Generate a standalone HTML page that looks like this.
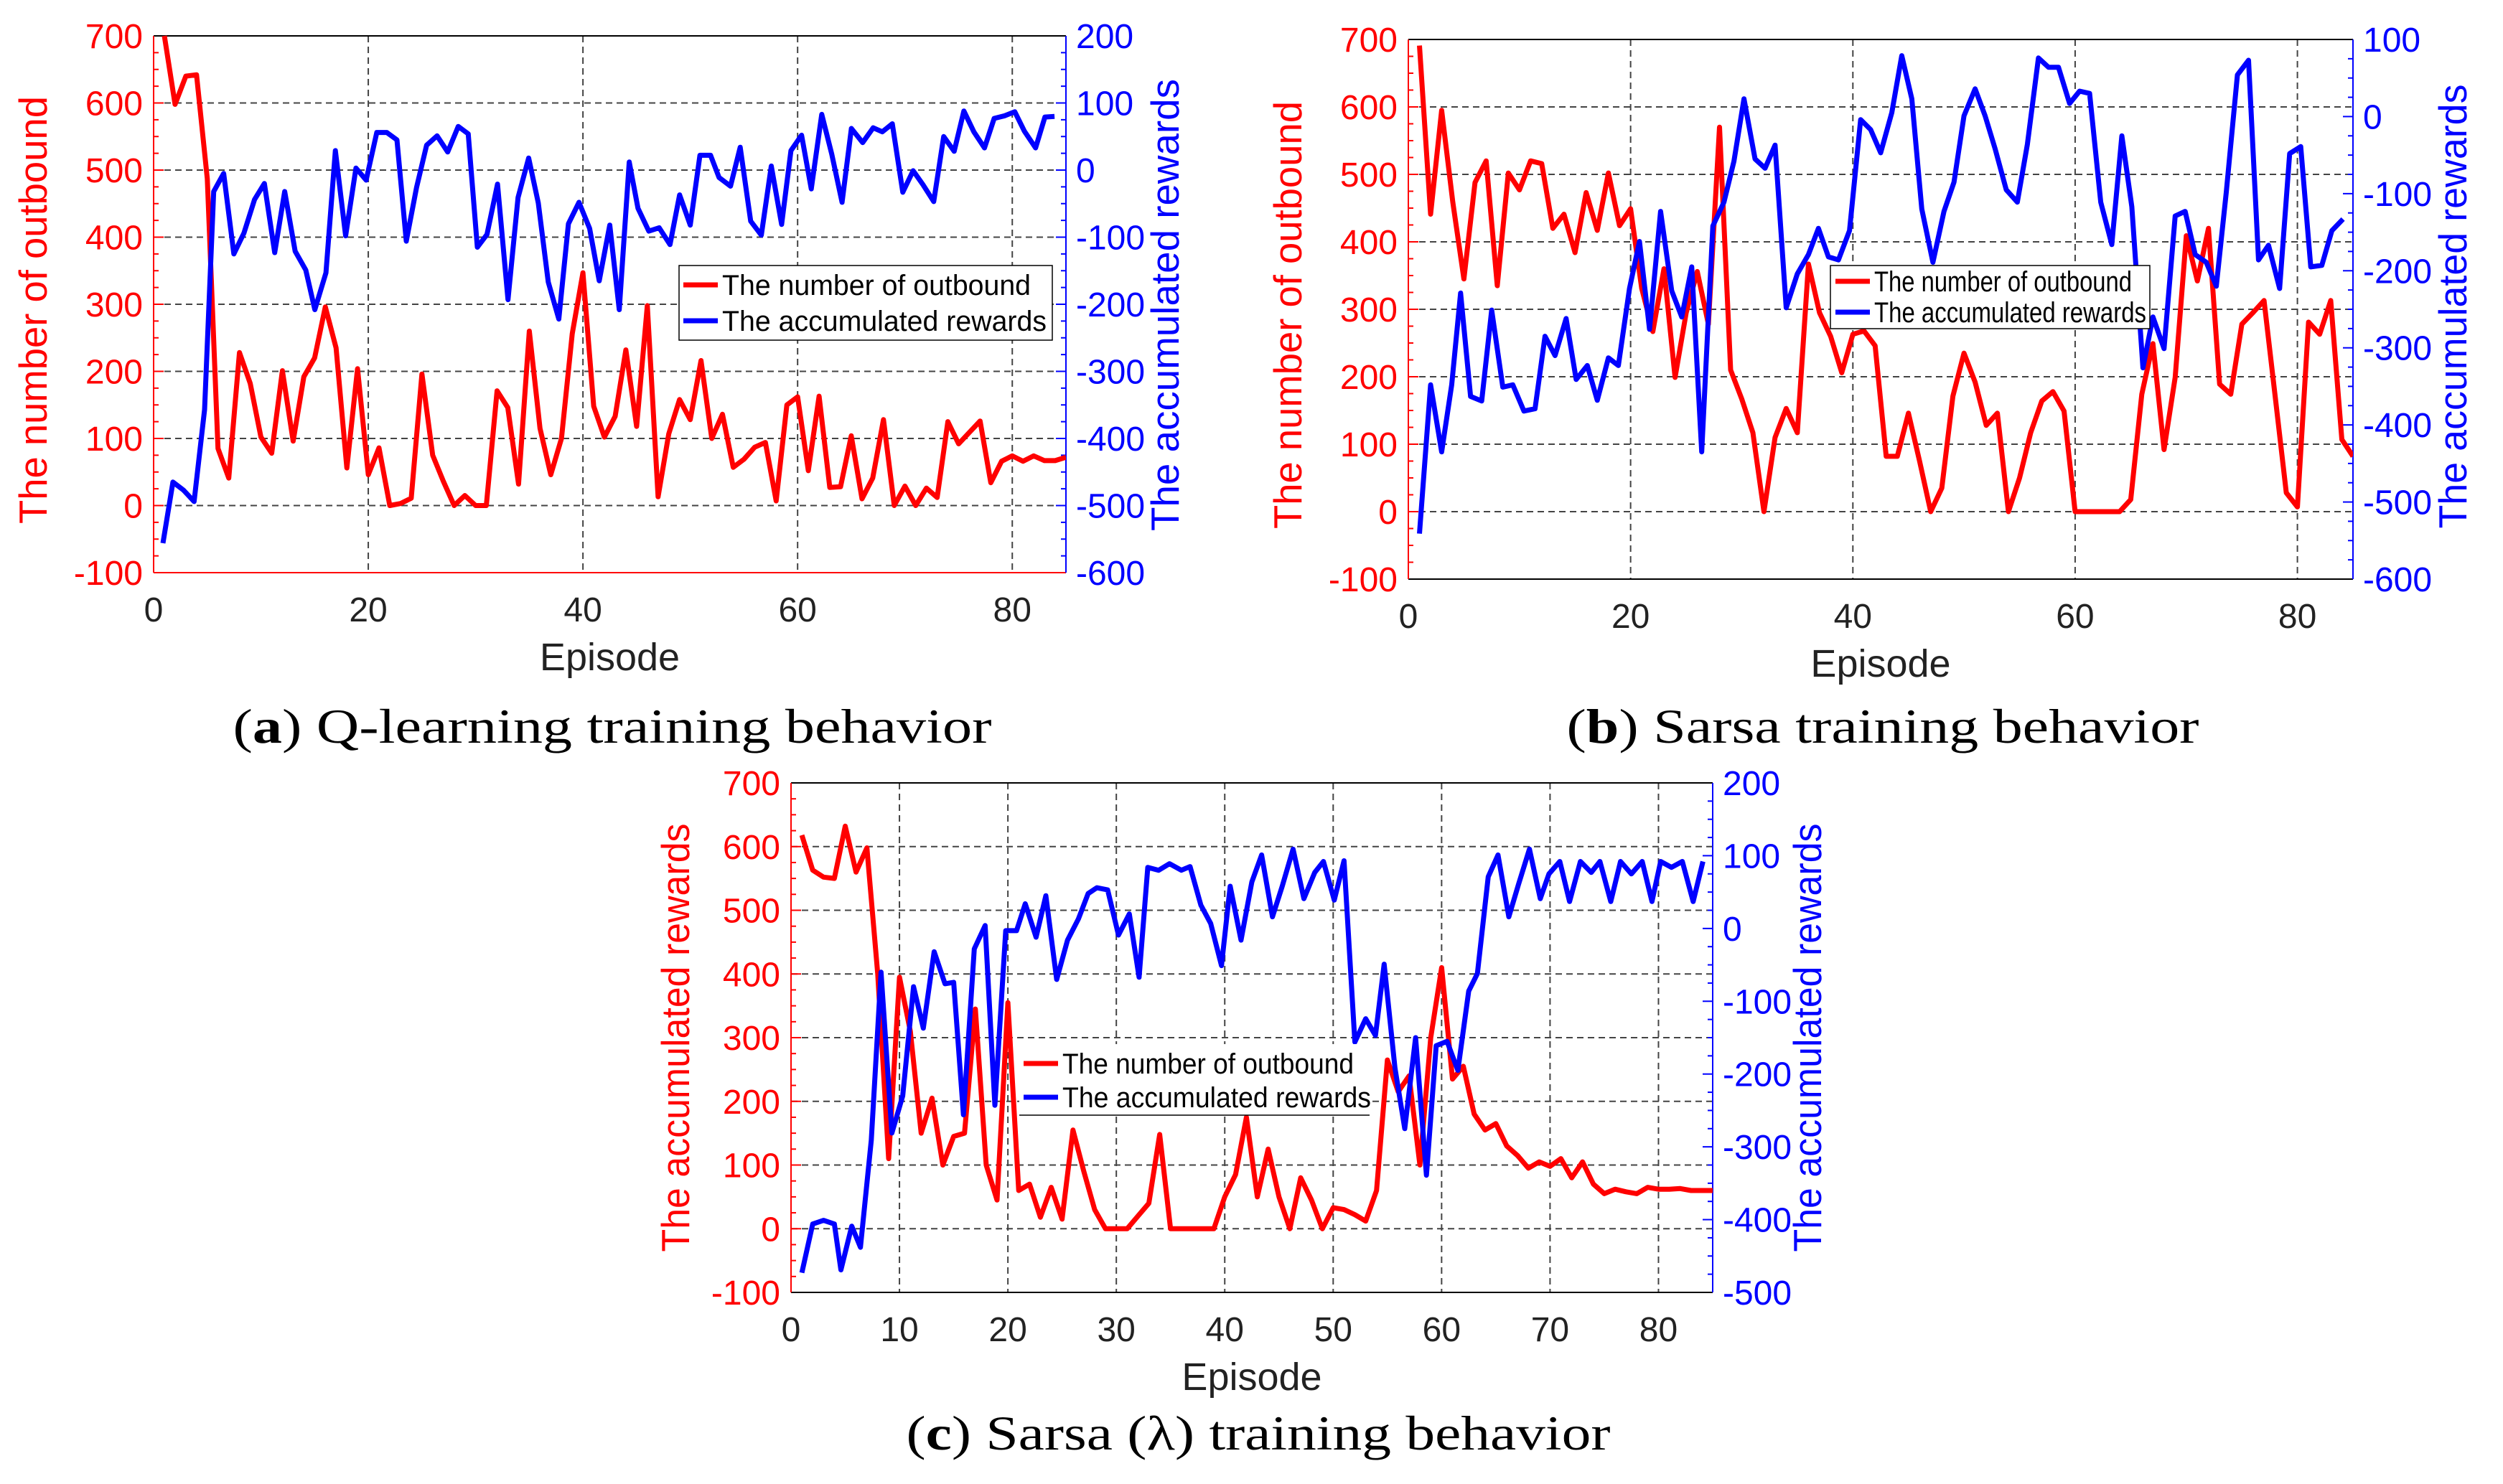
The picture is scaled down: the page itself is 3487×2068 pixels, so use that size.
<!DOCTYPE html>
<html><head><meta charset="utf-8"><style>
html,body{margin:0;padding:0;background:#fff;}
svg{display:block;}
text{font-family:"Liberation Sans",sans-serif;}
.cap{font-family:"Liberation Serif","DejaVu Serif",serif;}
</style></head><body>
<svg id="fig" width="3487" height="2068" viewBox="0 0 3487 2068" xmlns="http://www.w3.org/2000/svg">
<rect x="0" y="0" width="3487" height="2068" fill="#fff"/>
</svg>
<script>
// ----- data -----
const redA = [700,598,640,642,487,85,41,228,182,102,78,201,96,192,220,296,235,56,204,46,86,0,3,11,196,75,36,0,15,0,0,171,146,32,260,115,46,100,256,347,148,102,133,232,118,298,13,107,158,128,216,100,136,57,69,87,94,7,150,162,52,163,27,28,104,10,41,128,0,29,0,26,12,125,92,109,126,34,66,74,66,74,67,67,72];
const epsBlueA = [0.87,1.8,2.78,3.77,4.75,5.6,6.53,7.48,8.41,9.4,10.32,11.28,12.21,13.19,14.18,15.02,16.06,16.93,17.89,18.85,19.8,20.79,21.72,22.67,23.54,24.5,25.43,26.41,27.4,28.38,29.31,30.16,31.06,32.04,33.02,33.95,34.94,35.84,36.77,37.75,38.65,39.63,40.62,41.52,42.5,43.38,44.31,45.13,46.14,47.1,48.11,49.01,50.0,50.9,51.89,52.68,53.75,54.65,55.63,56.62,57.55,58.51,59.38,60.37,61.27,62.25,63.18,64.14,65.01,66.06,67.04,67.89,68.82,69.8,70.76,71.69,72.68,73.61,74.59,75.49,76.42,77.41,78.31,79.3,80.23,81.13,82.17,83.04,83.94];
const blueA = [-556,-465,-477,-494,-357,-32,-5,-125,-94,-44,-20,-123,-32,-121,-149,-208,-153,29,-98,3,-15,56,56,45,-106,-26,37,51,27,65,54,-115,-96,-21,-193,-41,18,-49,-167,-222,-80,-48,-87,-165,-82,-208,12,-57,-91,-86,-111,-37,-82,22,22,-11,-24,34,-76,-97,6,-81,29,52,-28,83,24,-48,62,41,63,57,69,-33,-1,-22,-47,50,28,88,57,33,77,81,87,58,33,79,80];
const redB = [691,441,595,459,345,488,520,335,502,477,520,516,420,441,384,473,417,502,424,449,331,267,360,199,295,356,278,570,210,167,117,0,110,153,117,367,295,260,206,263,268,246,82,82,146,75,0,35,171,235,192,128,146,0,50,117,164,178,149,0,0,0,0,0,18,174,249,92,199,409,342,420,189,174,278,295,313,171,28,7,281,263,313,107,82];
const epsBlueB = [1.0,2.0,3.0,3.9,4.7,5.6,6.6,7.5,8.5,9.4,10.4,11.4,12.3,13.2,14.2,15.1,16.1,17.0,18.0,18.9,19.9,20.8,21.7,22.7,23.7,24.6,25.5,26.4,27.4,28.4,29.3,30.2,31.2,32.1,33.0,34.0,35.0,36.0,36.9,37.8,38.7,39.7,40.7,41.6,42.5,43.5,44.4,45.3,46.2,47.2,48.2,49.1,50.0,51.0,51.9,52.8,53.8,54.8,55.7,56.7,57.6,58.5,59.5,60.4,61.3,62.3,63.3,64.2,65.1,66.1,67.0,68.0,69.0,69.9,70.8,71.8,72.7,73.6,74.6,75.6,76.5,77.4,78.4,79.3,80.3,81.2,82.2,83.1,84.1];
const blueB = [-541,-348,-435,-348,-229,-363,-369,-251,-351,-348,-382,-379,-285,-310,-262,-341,-323,-368,-313,-323,-223,-162,-276,-123,-226,-260,-195,-435,-142,-111,-58,23,-55,-67,-37,-248,-204,-179,-145,-182,-186,-148,-4,-17,-47,5,79,23,-120,-189,-123,-85,1,36,1,-42,-95,-111,-36,76,64,64,17,33,30,-111,-166,-25,-117,-326,-260,-301,-129,-123,-179,-189,-220,-98,54,73,-186,-167,-223,-48,-39,-195,-193,-148,-133];
const redC = [618,563,552,550,632,560,598,400,110,395,310,150,205,100,145,150,345,100,45,355,60,70,18,65,15,155,90,30,0,0,0,20,40,148,0,0,0,0,0,50,85,175,50,125,50,0,80,45,0,33,30,22,12,60,265,215,240,100,300,410,235,255,180,155,165,130,115,95,105,98,110,80,105,70,55,62,58,55,65,62,62,63,60,60,60];
const epsBlueC = [1.0,2.0,3.0,4.0,4.6,5.6,6.4,7.4,8.3,9.3,10.3,11.3,12.2,13.2,14.2,15.0,15.9,16.9,17.9,18.8,19.8,20.8,21.6,22.6,23.5,24.5,25.5,26.5,27.4,28.2,29.2,30.2,31.2,32.1,32.9,33.9,34.9,36.0,36.8,37.8,38.7,39.7,40.5,41.5,42.5,43.4,44.4,45.3,46.3,47.3,48.3,49.1,50.1,51.0,52.0,53.0,53.9,54.7,55.7,56.6,57.6,58.6,59.5,60.5,61.5,62.5,63.3,64.3,65.2,66.2,67.1,68.1,69.1,69.9,70.9,71.8,72.8,73.8,74.6,75.6,76.5,77.5,78.5,79.4,80.2,81.2,82.2,83.2,84.1];
const blueC = [-473,-406,-401,-406,-469,-409,-438,-291,-60,-281,-230,-80,-137,-32,-76,-74,-256,-28,4,-243,-3,-3,34,-12,45,-70,-16,13,48,56,53,-9,20,-67,84,80,89,80,85,32,7,-51,58,-16,64,101,16,58,109,41,77,92,39,93,-156,-124,-147,-49,-192,-275,-150,-339,-161,-155,-195,-86,-62,71,101,16,61,109,41,75,92,37,92,77,92,37,92,75,92,37,92,84,92,37,92];
const leftTicks = [-100,0,100,200,300,400,500,600,700];
const rightTicksA = [-600,-500,-400,-300,-200,-100,0,100,200];
const rightTicksB = [-600,-500,-400,-300,-200,-100,0,100];
const rightTicksC = [-500,-400,-300,-200,-100,0,100,200];
const xTicksAB = [0,20,40,60,80];
const xTicksC = [0,10,20,30,40,50,60,70,80];

const NS = "http://www.w3.org/2000/svg";
const svg = document.getElementById('fig');
function mk(tag, attrs, parent){
  const e = document.createElementNS(NS, tag);
  for (const k in attrs) e.setAttribute(k, attrs[k]);
  (parent||svg).appendChild(e);
  return e;
}
const RED = "#ff0000", BLUE = "#0000ff";

function drawChart(c){
  const g = mk('g', {});
  
  
  const xs = v => c.l + (v - 0) / 85 * (c.r - c.l);
  const yl = v => c.b - (v - (-100)) / 800 * (c.b - c.t);
  const yr = v => c.b - (v - c.rMin) / (c.rMax - c.rMin) * (c.b - c.t);
  c.xTicks.forEach(t => {
    if (t === 0) return;
    const ln = mk('line', {x1: xs(t), x2: xs(t), y1: c.t, y2: c.b, stroke: '#444', 'stroke-width': 2, 'stroke-dasharray': '9 6'}, g);
    
    
  });
  leftTicks.forEach(t => {
    if (t === -100 || t === 700) return;
    const ln = mk('line', {x1: c.l, x2: c.r, y1: yl(t), y2: yl(t), stroke: '#444', 'stroke-width': 2, 'stroke-dasharray': '9 6'}, g);
    
    
  });
  for (let v = -100; v <= 700; v += 25) {
    const len = (v % 100 === 0) ? 14 : 7;
    mk('line', {x1: c.l, x2: c.l + len, y1: yl(v), y2: yl(v), stroke: RED, 'stroke-width': 2}, g);
  }
  for (let v = c.rMin; v <= c.rMax; v += 25) {
    const len = (v % 100 === 0) ? 14 : 7;
    mk('line', {x1: c.r, x2: c.r - len, y1: yr(v), y2: yr(v), stroke: BLUE, 'stroke-width': 2}, g);
  }
  mk('line', {x1: c.l, x2: c.r, y1: c.t, y2: c.t, stroke: '#000', 'stroke-width': 2}, g);
  mk('line', {x1: c.l, x2: c.r, y1: c.b, y2: c.b, stroke: c.botColor, 'stroke-width': 2}, g);
  const la = mk('line', {x1: c.l, x2: c.l, y1: c.t, y2: c.b, stroke: RED, 'stroke-width': 2}, g);
  
  
  const ra = mk('line', {x1: c.r, x2: c.r, y1: c.t, y2: c.b, stroke: BLUE, 'stroke-width': 2}, g);
  
  
  leftTicks.forEach(t => {
    const tx = mk('text', {x: c.l - 15, y: yl(t) + 17, 'font-size': 48, fill: RED, 'text-anchor': 'end'}, g);
    tx.textContent = t;
    
    
  });
  c.rTicks.forEach(t => {
    const tx = mk('text', {x: c.r + 14, y: yr(t) + 17, 'font-size': 48, fill: BLUE}, g);
    tx.textContent = t;
    
    
  });
  c.xTicks.forEach(t => {
    const tx = mk('text', {x: xs(t), y: c.b + 68, 'font-size': 48, fill: '#222', 'text-anchor': 'middle'}, g);
    tx.textContent = t;
    
    
  });
  const xt = mk('text', {x: (c.l + c.r) / 2, y: c.b + 136, 'font-size': 54, fill: '#222', 'text-anchor': 'middle'}, g);
  xt.textContent = 'Episode';
  
  
  const lt = mk('text', {x: 0, y: 0, 'font-size': 55, fill: RED, 'text-anchor': 'middle', textLength: c.ltLen, lengthAdjust: 'spacingAndGlyphs', transform: `translate(${c.l - c.ltOff},${c.ltY}) rotate(-90)`}, g);
  lt.textContent = c.leftTitle;
  
  
  const rt = mk('text', {x: 0, y: 0, 'font-size': 55, fill: BLUE, 'text-anchor': 'middle', textLength: c.rtLen, lengthAdjust: 'spacingAndGlyphs', transform: `translate(${c.r + c.rtOff},${c.rtY}) rotate(-90)`}, g);
  rt.textContent = 'The accumulated rewards';
  
  
  const clip = mk('clipPath', {id: 'clip-' + c.id}, g);
  mk('rect', {x: c.l, y: c.t - 4, width: c.r - c.l, height: c.b - c.t + 8}, clip);
  const redPts = c.red.map((v, i) => xs(i + 1).toFixed(1) + ',' + yl(v).toFixed(1)).join(' ');
  const rp = mk('polyline', {points: redPts, fill: 'none', stroke: RED, 'stroke-width': 7, 'stroke-linejoin': 'round', 'clip-path': `url(#clip-${c.id})`}, g);
  
  
  const bluePts = c.blue.map((v, i) => xs(c.blueEps ? c.blueEps[i] : i + 1).toFixed(1) + ',' + yr(v).toFixed(1)).join(' ');
  const bp = mk('polyline', {points: bluePts, fill: 'none', stroke: BLUE, 'stroke-width': 7, 'stroke-linejoin': 'round', 'clip-path': `url(#clip-${c.id})`}, g);
  
  
  const L = c.leg;
  const lg = mk('g', {}, g);
  
  
  mk('rect', {x: L.x, y: L.y, width: L.w, height: L.h, fill: '#fff', stroke: L.border ? '#000' : 'none', 'stroke-width': 1.5}, lg);
  if (!L.border) mk('line', {x1: L.x, x2: L.x + L.w, y1: L.y + L.h, y2: L.y + L.h, stroke: '#000', 'stroke-width': 1.5}, lg);
  const e1 = mk('line', {x1: L.lx, x2: L.lx + 48, y1: L.y1, y2: L.y1, stroke: RED, 'stroke-width': 7}, lg);
  
  
  const t1 = mk('text', {x: L.lx + 54, y: L.y1 + 14, 'font-size': 40, fill: '#000', textLength: L.t1, lengthAdjust: 'spacingAndGlyphs'}, lg);
  t1.textContent = 'The number of outbound';
  
  
  const e2 = mk('line', {x1: L.lx, x2: L.lx + 48, y1: L.y2, y2: L.y2, stroke: BLUE, 'stroke-width': 7}, lg);
  
  
  const t2 = mk('text', {x: L.lx + 54, y: L.y2 + 14, 'font-size': 40, fill: '#000', textLength: L.t2, lengthAdjust: 'spacingAndGlyphs'}, lg);
  t2.textContent = 'The accumulated rewards';
  
  
  const cp = mk('text', {x: c.capX, y: c.capY, 'font-size': 68, fill: '#000', 'text-anchor': 'middle', class: 'cap', textLength: c.capLen, lengthAdjust: 'spacingAndGlyphs'}, g);
  
  
  cp.appendChild(document.createTextNode('('));
  const b = mk('tspan', {'font-weight': 'bold'}, cp);
  b.textContent = c.capLetter;
  cp.appendChild(document.createTextNode(') ' + c.capText));
}

drawChart({id: 'a', l: 214, r: 1485, t: 50, b: 798, rMin: -600, rMax: 200, rTicks: rightTicksA, xTicks: xTicksAB,
  red: redA, blue: blueA, blueEps: epsBlueA, botColor: RED,
  leftTitle: 'The number of outbound', ltOff: 149, ltY: 432, ltLen: 596, rtOff: 157, rtY: 425, rtLen: 630,
  leg: {x: 946, y: 370, w: 520, h: 104, border: true, lx: 952, y1: 397, y2: 447, t1: 430, t2: 452},
  capX: 853, capY: 1035, capLen: 1057, capLetter: 'a', capText: 'Q-learning training behavior'});
drawChart({id: 'b', l: 1962, r: 3278, t: 55, b: 807, rMin: -600, rMax: 100, rTicks: rightTicksB, xTicks: xTicksAB,
  red: redB, blue: blueB, blueEps: epsBlueB, botColor: '#000',
  leftTitle: 'The number of outbound', ltOff: 149, ltY: 439, ltLen: 596, rtOff: 158, rtY: 427, rtLen: 619,
  leg: {x: 2550, y: 370, w: 445, h: 88, border: true, lx: 2557, y1: 392, y2: 435, t1: 359, t2: 379},
  capX: 2623, capY: 1035, capLen: 881, capLetter: 'b', capText: 'Sarsa training behavior'});
drawChart({id: 'c', l: 1102, r: 2386, t: 1091, b: 1801, rMin: -500, rMax: 200, rTicks: rightTicksC, xTicks: xTicksC,
  red: redC, blue: blueC, blueEps: epsBlueC, botColor: '#000',
  leftTitle: 'The accumulated rewards', ltOff: 142, ltY: 1446, ltLen: 597, rtOff: 151, rtY: 1446, rtLen: 597,
  leg: {x: 1420, y: 1455, w: 488, h: 99, border: false, lx: 1426, y1: 1482, y2: 1529, t1: 406, t2: 430},
  capX: 1753, capY: 2020, capLen: 981, capLetter: 'c', capText: 'Sarsa (\u03BB) training behavior'});
</script>
</body></html>
